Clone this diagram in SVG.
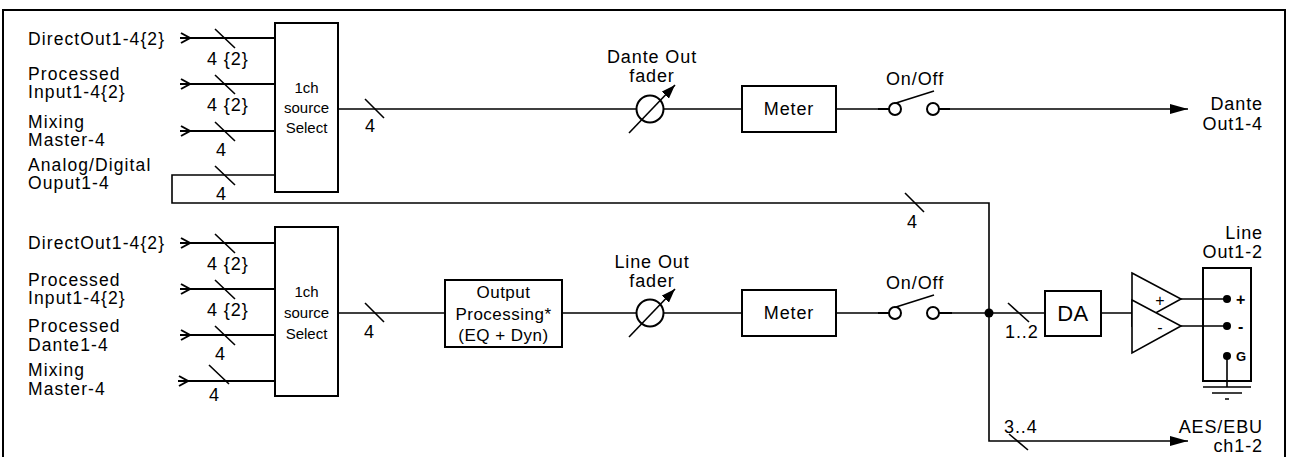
<svg xmlns="http://www.w3.org/2000/svg" width="1290" height="457" viewBox="0 0 1290 457">
<defs>
<style>
.t{font-family:"Liberation Sans",Arial,sans-serif;font-size:18px;letter-spacing:0.9px;fill:#000}
.l{font-size:17.5px;letter-spacing:1.1px}
.m{text-anchor:middle}
.e{text-anchor:end}
.s{font-size:15px;letter-spacing:0}
.w{stroke:#000;stroke-width:2;fill:none}
.b{stroke:#000;stroke-width:2;fill:#fff}
.n{stroke:#000;stroke-width:1.6;fill:none}
.d{fill:#000}
</style>
<marker id="ah" viewBox="0 0 18 10" refX="18" refY="5" markerWidth="18" markerHeight="10" markerUnits="userSpaceOnUse" orient="auto">
<path d="M0,0 L18,5 L0,10 Z" fill="#000"/>
</marker>
<marker id="fh" viewBox="0 0 14 10" refX="14" refY="5" markerWidth="14" markerHeight="10" markerUnits="userSpaceOnUse" orient="auto">
<path d="M0,0 L14,5 L0,10 Z" fill="#000"/>
</marker>
</defs>
<rect width="1290" height="457" fill="#fff"/>
<path d="M3,460 L3,10 L1285,10 L1285,460" class="w"/>

<g id="connectors">
<path d="M180,38 L275,38 M181,33 L190,38 L181,43" class="w"/>
<path d="M180,84 L275,84 M181,79 L190,84 L181,89" class="w"/>
<path d="M180,131 L275,131 M181,126 L190,131 L181,136" class="w"/>
<path d="M275,175 L172,175 L172,203 L989,203 L989,441 L1188,441" class="n" marker-end="url(#ah)"/>
<path d="M215,29 L235,48 M215,75 L235,94 M215,122 L235,141 M215,166 L235,185" class="n"/>
<path d="M338,109 L742,109 M836,109 L880,109 M939,109 L1188,109" class="n" marker-end="url(#ah)"/>
<path d="M878,109 L889,109 M939,109 L950,109" class="w"/>
<path d="M365,99 L384,118" class="n"/>
<path d="M905,193 L924,212" class="n"/>
<path d="M180,243 L275,243 M181,238 L190,243 L181,248" class="w"/>
<path d="M180,289 L275,289 M181,284 L190,289 L181,294" class="w"/>
<path d="M180,335 L275,335 M181,330 L190,335 L181,340" class="w"/>
<path d="M178,381 L275,381 M179,376 L188,381 L179,386" class="w"/>
<path d="M215,234 L235,253 M215,280 L235,299 M215,326 L235,345 M209,365 L229,384" class="n"/>
<path d="M338,313 L445,313 M562,313 L742,313 M836,313 L880,313 M939,313 L1045,313 M1101,313 L1132,313" class="n"/>
<path d="M878,313 L889,313 M939,313 L952,313" class="w"/>
<path d="M365,303 L384,322" class="n"/>
<path d="M1008,303 L1029,322" class="n"/>
<path d="M1009,434 L1028,450" class="n"/>
<circle cx="989" cy="313" r="4.5" class="d"/>
<path d="M1181,299 L1227,299 M1181,326 L1227,326 M1227,356 L1227,387" class="n"/>
</g>

<g id="inputs-top">
<text class="t l" x="28" y="45">DirectOut1-4{2}</text>
<text class="t" x="207" y="65">4 {2}</text>
<text class="t l" x="28" y="80">Processed</text>
<text class="t l" x="28" y="98">Input1-4{2}</text>
<text class="t" x="207" y="111">4 {2}</text>
<text class="t l" x="28" y="128">Mixing</text>
<text class="t l" x="28" y="146">Master-4</text>
<text class="t" x="216" y="156">4</text>
<text class="t l" x="28" y="171">Analog/Digital</text>
<text class="t l" x="28" y="189">Ouput1-4</text>
<text class="t" x="216" y="200">4</text>
</g>

<g id="select-top">
<rect x="275" y="23" width="63" height="169" class="b"/>
<text class="t s m" x="306.5" y="93">1ch</text>
<text class="t s m" x="306.5" y="113">source</text>
<text class="t s m" x="306.5" y="133">Select</text>
<text class="t" x="365" y="132">4</text>
</g>

<g id="dante-fader">
<text class="t m" x="652" y="63">Dante Out</text>
<text class="t m" x="652" y="82">fader</text>
<circle cx="650" cy="109" r="13.5" class="b"/>
<path d="M629,133 L675,85" class="n" marker-end="url(#fh)"/>
</g>

<g id="dante-meter">
<rect x="742" y="86" width="94" height="46" class="b"/>
<text class="t m" x="789" y="115">Meter</text>
</g>

<g id="dante-switch">
<text class="t m" x="915" y="85">On/Off</text>
<circle cx="895" cy="109" r="6" class="b"/>
<circle cx="933" cy="109" r="6" class="b"/>
<path d="M896,103 L934,91" class="n"/>
</g>

<g id="dante-out">
<text class="t e" x="1263" y="110">Dante</text>
<text class="t e" x="1263" y="130">Out1-4</text>
<text class="t" x="907" y="228">4</text>
</g>

<g id="inputs-bottom">
<text class="t l" x="28" y="249">DirectOut1-4{2}</text>
<text class="t" x="207" y="270">4 {2}</text>
<text class="t l" x="28" y="286">Processed</text>
<text class="t l" x="28" y="304">Input1-4{2}</text>
<text class="t" x="207" y="316">4 {2}</text>
<text class="t l" x="28" y="332">Processed</text>
<text class="t l" x="28" y="351">Dante1-4</text>
<text class="t" x="215" y="360">4</text>
<text class="t l" x="28" y="376">Mixing</text>
<text class="t l" x="28" y="395">Master-4</text>
<text class="t" x="209" y="401">4</text>
</g>

<g id="select-bottom">
<rect x="275" y="227" width="63" height="169" class="b"/>
<text class="t s m" x="306.5" y="297">1ch</text>
<text class="t s m" x="306.5" y="318">source</text>
<text class="t s m" x="306.5" y="339">Select</text>
<text class="t" x="364" y="338">4</text>
</g>

<g id="output-processing">
<rect x="445" y="280" width="117" height="67" class="b"/>
<text class="t m" x="503.5" y="298" style="font-size:17px;letter-spacing:0.5px">Output</text>
<text class="t m" x="503.5" y="320" style="font-size:17px;letter-spacing:0.5px">Processing*</text>
<text class="t m" x="503.5" y="341" style="font-size:17px;letter-spacing:0.5px">(EQ + Dyn)</text>
</g>

<g id="line-fader">
<text class="t m" x="652" y="268">Line Out</text>
<text class="t m" x="652" y="287">fader</text>
<circle cx="650" cy="313" r="13.5" class="b"/>
<path d="M629,337 L675,289" class="n" marker-end="url(#fh)"/>
</g>

<g id="line-meter">
<rect x="742" y="290" width="94" height="46" class="b"/>
<text class="t m" x="789" y="319">Meter</text>
</g>

<g id="line-switch">
<text class="t m" x="915" y="289">On/Off</text>
<circle cx="895" cy="313" r="6" class="b"/>
<circle cx="933" cy="313" r="6" class="b"/>
<path d="M896,307 L934,295" class="n"/>
</g>

<g id="da">
<text class="t" x="1005" y="338">1..2</text>
<rect x="1045" y="291" width="56" height="45" class="b"/>
<text class="t m" x="1073" y="321" style="font-size:22px;letter-spacing:0.5px">DA</text>
</g>

<g id="amp">
<path d="M1132,273 L1181,299 L1132,326 Z" class="b" style="stroke-width:1.6"/>
<path d="M1132,300 L1181,326 L1132,353 Z" class="b" style="stroke-width:1.6"/>
<text class="t m" x="1160" y="306" style="font-size:16px;letter-spacing:0">+</text>
<text class="t m" x="1160" y="333" style="font-size:16px;letter-spacing:0">-</text>
</g>

<g id="line-out">
<text class="t e" x="1263" y="239">Line</text>
<text class="t e" x="1263" y="258">Out1-2</text>
<rect x="1203" y="268" width="48" height="113" class="w"/>
<circle cx="1227" cy="299" r="4" class="d"/>
<circle cx="1227" cy="326" r="4" class="d"/>
<circle cx="1227" cy="356" r="4" class="d"/>
<text class="t" x="1236" y="305" style="font-size:16px;font-weight:bold;letter-spacing:0">+</text>
<text class="t" x="1238" y="332" style="font-size:16px;font-weight:bold;letter-spacing:0">-</text>
<text class="t" x="1236" y="361" style="font-size:13px;font-weight:bold;letter-spacing:0">G</text>
<path d="M1203,387 L1251,387 M1212,393 L1242,393 M1225,399 L1229,399" class="n"/>
</g>

<g id="aes-out">
<text class="t" x="1004" y="433">3..4</text>
<text class="t e" x="1263" y="433">AES/EBU</text>
<text class="t e" x="1263" y="452">ch1-2</text>
</g>
</svg>
